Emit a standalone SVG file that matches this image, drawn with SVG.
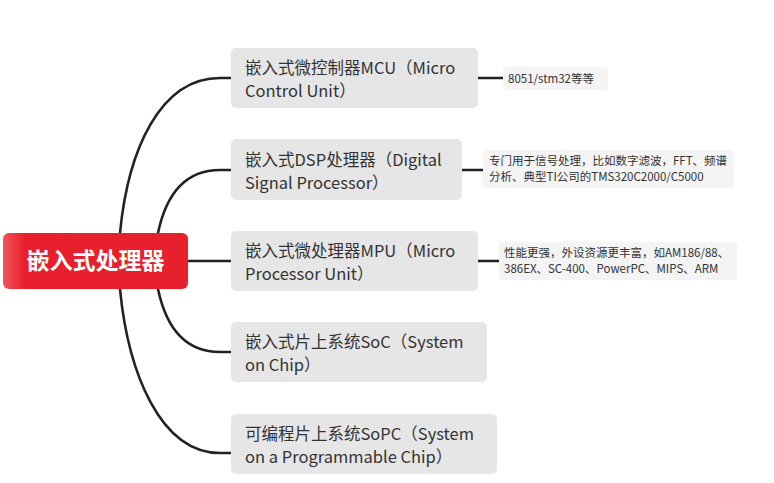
<svg xmlns="http://www.w3.org/2000/svg" width="774" height="483" viewBox="0 0 774 483">
<style>
.bg{fill:#ffffff}
.link{fill:none;stroke:#222;stroke-width:2.6;stroke-linecap:round}
.br rect{fill:#e6e6e6}
.br text{font-family:"Noto Sans CJK SC","Noto Sans",sans-serif;font-size:16.5px;fill:#333}
.leaf rect{fill:#f4f4f4}
.leaf text{font-family:"Noto Sans CJK SC","Noto Sans",sans-serif;font-size:11.5px;fill:#333}
.root text{font-family:"Noto Sans CJK SC","Noto Sans",sans-serif;font-size:23px;font-weight:bold;fill:#fff}
</style>
<defs>
<linearGradient id="rg" x1="0" y1="0" x2="1" y2="0">
<stop offset="0" stop-color="#f2525c"/>
<stop offset="0.12" stop-color="#e81e2c"/>
<stop offset="1" stop-color="#e8202c"/>
</linearGradient>
</defs>
<rect class="bg" x="0" y="0" width="774" height="483"/>
<g id="connectors">
<path class="link" d="M120,233 C128,150 160,78 220,78 L231,78"/>
<path class="link" d="M158,233 C166,195 185,170 220,170 L231,170"/>
<path class="link" d="M188,261 L231,261"/>
<path class="link" d="M158,289 C166,327 185,352 220,352 L231,352"/>
<path class="link" d="M120,289 C128,372 160,453 220,453 L231,453"/>
<path class="link" d="M478,78 L503,78"/>
<path class="link" d="M462,170 L483,170"/>
<path class="link" d="M478,261 L499,261"/>
</g>
<g id="root" class="root">
<rect x="3" y="233" width="185" height="56" rx="6" fill="url(#rg)"/>
<text x="95.5" y="269" text-anchor="middle">嵌入式处理器</text>
</g>
<g id="mcu" class="br">
<rect x="231" y="48" width="247" height="60" rx="5"/>
<text x="245" y="73.5">嵌入式微控制器MCU（Micro</text>
<text x="245" y="96.5">Control Unit）</text>
</g>
<g id="dsp" class="br">
<rect x="231" y="139" width="231" height="61" rx="5"/>
<text x="245" y="165.5">嵌入式DSP处理器（Digital</text>
<text x="245" y="188.5">Signal Processor）</text>
</g>
<g id="mpu" class="br">
<rect x="231" y="231" width="247" height="60" rx="5"/>
<text x="245" y="256.5">嵌入式微处理器MPU（Micro</text>
<text x="245" y="279.5">Processor Unit）</text>
</g>
<g id="soc" class="br">
<rect x="231" y="322" width="256" height="60" rx="5"/>
<text x="245" y="347.5">嵌入式片上系统SoC（System</text>
<text x="245" y="370.5">on Chip）</text>
</g>
<g id="sopc" class="br">
<rect x="231" y="414" width="266" height="60" rx="5"/>
<text x="245" y="439.5">可编程片上系统SoPC（System</text>
<text x="245" y="462.5">on a Programmable Chip）</text>
</g>
<g id="leaf-mcu" class="leaf">
<rect x="503" y="67" width="105" height="23" rx="4"/>
<text x="508" y="82.5">8051/stm32等等</text>
</g>
<g id="leaf-dsp" class="leaf">
<rect x="483" y="150" width="251" height="38" rx="4"/>
<text x="489" y="165">专门用于信号处理，比如数字滤波，FFT、频谱</text>
<text x="489" y="181">分析、典型TI公司的TMS320C2000/C5000</text>
</g>
<g id="leaf-mpu" class="leaf">
<rect x="499" y="242" width="238" height="38" rx="4"/>
<text x="504" y="257">性能更强，外设资源更丰富，如AM186/88、</text>
<text x="504" y="273">386EX、SC-400、PowerPC、MIPS、ARM</text>
</g>
</svg>
